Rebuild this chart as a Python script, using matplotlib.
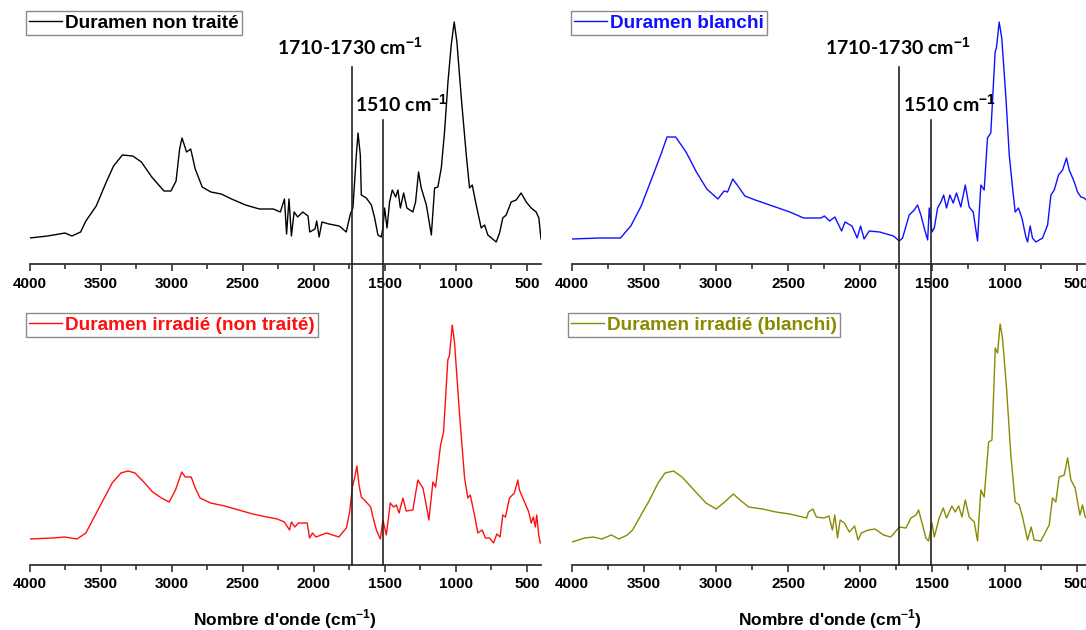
import matplotlib
matplotlib.use("Agg")
import matplotlib.pyplot as plt
from matplotlib.lines import Line2D
from matplotlib.ticker import MultipleLocator
from matplotlib.transforms import blended_transform_factory

plt.rcParams['font.family'] = ['Liberation Sans', 'DejaVu Sans']
plt.rcParams['font.weight'] = 'bold'
plt.rcParams['mathtext.fontset'] = 'custom'
plt.rcParams['mathtext.rm'] = 'Liberation Sans:bold'
plt.rcParams['mathtext.bf'] = 'Liberation Sans:bold'

# FTIR spectra, wavenumber (cm-1) and intensity (a.u.)
wn_nt = [4000, 3873, 3751, 3702, 3641, 3604, 3531, 3457, 3409, 3347, 3274, 3213, 3140, 3054, 3005, 2969, 2944, 2927, 2895, 2866,
         2834, 2785, 2724, 2651, 2578, 2480, 2382, 2284, 2235, 2206, 2191, 2174, 2157, 2138, 2113, 2077, 2040, 2028, 1991, 1979,
         1962, 1942, 1893, 1820, 1771, 1742, 1724, 1700, 1688, 1672, 1665, 1630, 1594, 1571, 1548, 1524, 1513, 1501, 1484, 1466,
         1447, 1423, 1407, 1390, 1367, 1344, 1302, 1283, 1262, 1243, 1207, 1172, 1149, 1126, 1102, 1079, 1055, 1032, 1011, 992,
         961, 926, 903, 884, 856, 821, 797, 774, 715, 692, 669, 645, 610, 575, 540, 504, 469, 434, 415, 400]
ab_nt = [26, 28, 31, 28, 32, 43, 58, 83, 98, 109, 108, 102, 87, 73, 73, 83, 115, 126, 112, 115,
         95, 77, 72, 70, 65, 59, 55, 55, 52, 65, 30, 65, 28, 52, 47, 52, 48, 32, 35, 43,
         27, 42, 40, 38, 32, 50, 56, 109, 131, 109, 69, 66, 59, 46, 29, 27, 36, 56, 36, 62,
         74, 67, 74, 56, 71, 56, 52, 62, 92, 76, 59, 29, 76, 77, 96, 132, 182, 219, 242, 222,
         166, 109, 76, 79, 59, 36, 39, 29, 22, 31, 46, 49, 62, 64, 71, 62, 56, 52, 46, 25]

wn_bl = [4000, 3808, 3664, 3592, 3520, 3448, 3377, 3341, 3281, 3209, 3137, 3065, 2988, 2945, 2921, 2885, 2849, 2801, 2729, 2609,
         2489, 2393, 2273, 2249, 2213, 2177, 2130, 2106, 2058, 2022, 1998, 1974, 1938, 1866, 1770, 1730, 1707, 1661, 1626, 1603,
         1580, 1557, 1533, 1522, 1503, 1487, 1464, 1441, 1422, 1402, 1379, 1356, 1333, 1303, 1272, 1245, 1217, 1187, 1164, 1141,
         1118, 1095, 1065, 1056, 1037, 1019, 990, 967, 944, 926, 903, 879, 852, 840, 822, 806, 782, 736, 701, 678,
         655, 625, 597, 570, 551, 516, 493, 470, 447, 420, 400]
ab_bl = [25, 26, 26, 38, 58, 85, 112, 127, 127, 112, 92, 75, 65, 73, 72, 85, 78, 68, 64, 58,
         52, 46, 46, 48, 43, 47, 33, 42, 38, 26, 38, 25, 33, 32, 28, 23, 26, 49, 54, 59,
         49, 36, 24, 56, 32, 36, 56, 62, 69, 56, 69, 61, 71, 57, 79, 57, 52, 23, 79, 74,
         126, 131, 212, 216, 242, 226, 166, 109, 76, 52, 56, 46, 27, 22, 38, 26, 22, 26, 39, 69,
         74, 89, 94, 106, 94, 82, 72, 67, 66, 62, 55]

wn_irr = [4000, 3839, 3753, 3666, 3604, 3567, 3493, 3419, 3357, 3307, 3258, 3196, 3134, 3072, 3018, 2973, 2929, 2904, 2862, 2837,
          2800, 2726, 2627, 2528, 2429, 2330, 2256, 2207, 2170, 2157, 2133, 2108, 2046, 2029, 2009, 1984, 1910, 1823, 1770, 1747,
          1728, 1712, 1696, 1681, 1665, 1630, 1599, 1583, 1559, 1531, 1513, 1489, 1461, 1438, 1418, 1399, 1372, 1349, 1302, 1267,
          1231, 1208, 1189, 1161, 1142, 1107, 1086, 1056, 1044, 1025, 1009, 973, 938, 915, 898, 868, 845, 814, 791, 762,
          734, 711, 688, 669, 650, 622, 587, 563, 552, 516, 486, 469, 454, 440, 430, 416, 405]
ab_irr = [26, 27, 28, 26, 32, 42, 62, 82, 92, 94, 92, 83, 73, 67, 63, 75, 93, 88, 88, 78,
          67, 62, 59, 55, 51, 48, 46, 43, 35, 43, 38, 42, 42, 27, 32, 28, 32, 28, 37, 53,
          78, 87, 99, 80, 68, 63, 58, 48, 35, 26, 45, 30, 62, 58, 60, 52, 67, 54, 55, 85,
          77, 60, 45, 83, 78, 120, 133, 205, 210, 240, 223, 150, 87, 67, 70, 50, 32, 35, 27, 27,
          22, 31, 28, 50, 48, 67, 72, 85, 75, 63, 53, 42, 48, 38, 50, 30, 22]

wn_irr_bl = [4000, 3912, 3853, 3794, 3727, 3675, 3616, 3580, 3533, 3462, 3403, 3355, 3296, 3237, 3154, 3071, 3000, 2941, 2881, 2834,
             2775, 2680, 2585, 2490, 2372, 2360, 2329, 2305, 2253, 2218, 2194, 2177, 2158, 2140, 2111, 2076, 2040, 2016, 1993, 1945,
             1898, 1839, 1791, 1776, 1730, 1684, 1649, 1614, 1596, 1572, 1545, 1527, 1503, 1487, 1453, 1425, 1402, 1365, 1342, 1318,
             1295, 1272, 1245, 1210, 1187, 1164, 1141, 1110, 1087, 1064, 1048, 1030, 1014, 986, 956, 926, 898, 875, 840, 815,
             794, 748, 690, 667, 644, 621, 586, 562, 539, 510, 477, 459, 440, 420, 400]
ab_irr_bl = [23, 27, 28, 26, 30, 26, 30, 35, 47, 65, 82, 92, 94, 88, 75, 62, 56, 63, 71, 65,
             58, 56, 53, 51, 47, 53, 56, 48, 47, 49, 35, 50, 27, 45, 42, 33, 39, 25, 32, 35,
             36, 30, 28, 30, 38, 37, 47, 50, 55, 42, 27, 24, 42, 28, 47, 57, 47, 59, 53, 59,
             48, 65, 48, 43, 24, 75, 68, 123, 125, 217, 212, 241, 227, 177, 110, 63, 60, 48, 25, 38,
             25, 24, 40, 67, 63, 88, 90, 107, 85, 77, 50, 60, 48, 45, 40]

bands = [1730, 1510]

W, H = 1086, 630
fig = plt.figure(figsize=(W / 100, H / 100), dpi=100)


def fx(x):
    return x / W


def fy(y):
    return 1 - y / H


def draw_panel(rect, wn, ab, color, label, leg_xy):
    ax = fig.add_axes(rect)
    ax.patch.set_alpha(0)
    ax.plot(wn, ab, color=color, lw=1.0, label=label)
    ax.set_xlim(4000, 400)
    ax.set_ylim(0, 250)
    for s in ['top', 'left', 'right']:
        ax.spines[s].set_visible(False)
    ax.spines['bottom'].set_linewidth(1.3)
    ax.spines['bottom'].set_color('#333333')
    ax.set_yticks([])
    ax.set_xticks(list(range(4000, 499, -500)))
    ax.xaxis.set_minor_locator(MultipleLocator(250))
    ax.tick_params(axis='x', which='major', direction='out', length=5, width=1.2, pad=4,
                   labelsize=11, color='#333333')
    ax.tick_params(axis='x', which='minor', direction='out', length=3.5, width=1.2, color='#333333')
    leg = ax.legend(loc='upper left', bbox_to_anchor=(fx(leg_xy[0]), fy(leg_xy[1])),
                    bbox_transform=fig.transFigure, borderaxespad=0, fancybox=False,
                    edgecolor='#8a8a8a', framealpha=1, handlelength=1.7, handletextpad=0.15,
                    borderpad=0.18, labelcolor='linecolor', prop={'size': 13.7, 'weight': 'bold'})
    leg.get_frame().set_linewidth(1.0)
    return ax


# column x extents (px) and row bottoms (px)
left_col = (29.6, 541.0)
right_col = (572.0, 1091.0)
row_h = 250
top_bottom, bot_bottom = 264, 565


def rect(col, bottom):
    return [fx(col[0]), fy(bottom), fx(col[1] - col[0]), row_h / H]


ax1 = draw_panel(rect(left_col, top_bottom), wn_nt, ab_nt, 'black', 'Duramen non traité', (26, 11))
ax2 = draw_panel(rect(right_col, top_bottom), wn_bl, ab_bl, '#1010ff', 'Duramen blanchi', (571, 11))
ax3 = draw_panel(rect(left_col, bot_bottom), wn_irr, ab_irr, '#ff1010', 'Duramen irradié (non traité)', (26, 313))
ax4 = draw_panel(rect(right_col, bot_bottom), wn_irr_bl, ab_irr_bl, '#8a8a00', 'Duramen irradié (blanchi)', (568, 313))

# band markers running through both rows
for ax in [ax3, ax4]:
    tr = blended_transform_factory(ax.transData, fig.transFigure)
    fig.add_artist(Line2D([bands[0], bands[0]], [fy(67), fy(bot_bottom)], transform=tr, color='#222222', lw=1.2))
    fig.add_artist(Line2D([bands[1], bands[1]], [fy(120), fy(bot_bottom)], transform=tr, color='#222222', lw=1.2))

ann = {'family': ['Lato', 'DejaVu Sans'], 'weight': 'bold', 'size': 14}
fig.text(fx(423), fy(55), "1710-1730 cm$^{-1}$", ha='right', va='baseline', **ann)
fig.text(fx(355), fy(112), "1510 cm$^{-1}$", ha='left', va='baseline', **ann)
fig.text(fx(971), fy(55), "1710-1730 cm$^{-1}$", ha='right', va='baseline', **ann)
fig.text(fx(903), fy(112), "1510 cm$^{-1}$", ha='left', va='baseline', **ann)

fig.text(fx(285), fy(619), "Nombre d'onde (cm$^{-1}$)", ha='center', va='center', size=12.5, weight='bold')
fig.text(fx(830), fy(619), "Nombre d'onde (cm$^{-1}$)", ha='center', va='center', size=12.5, weight='bold')

fig.savefig('out.png', dpi=100)
